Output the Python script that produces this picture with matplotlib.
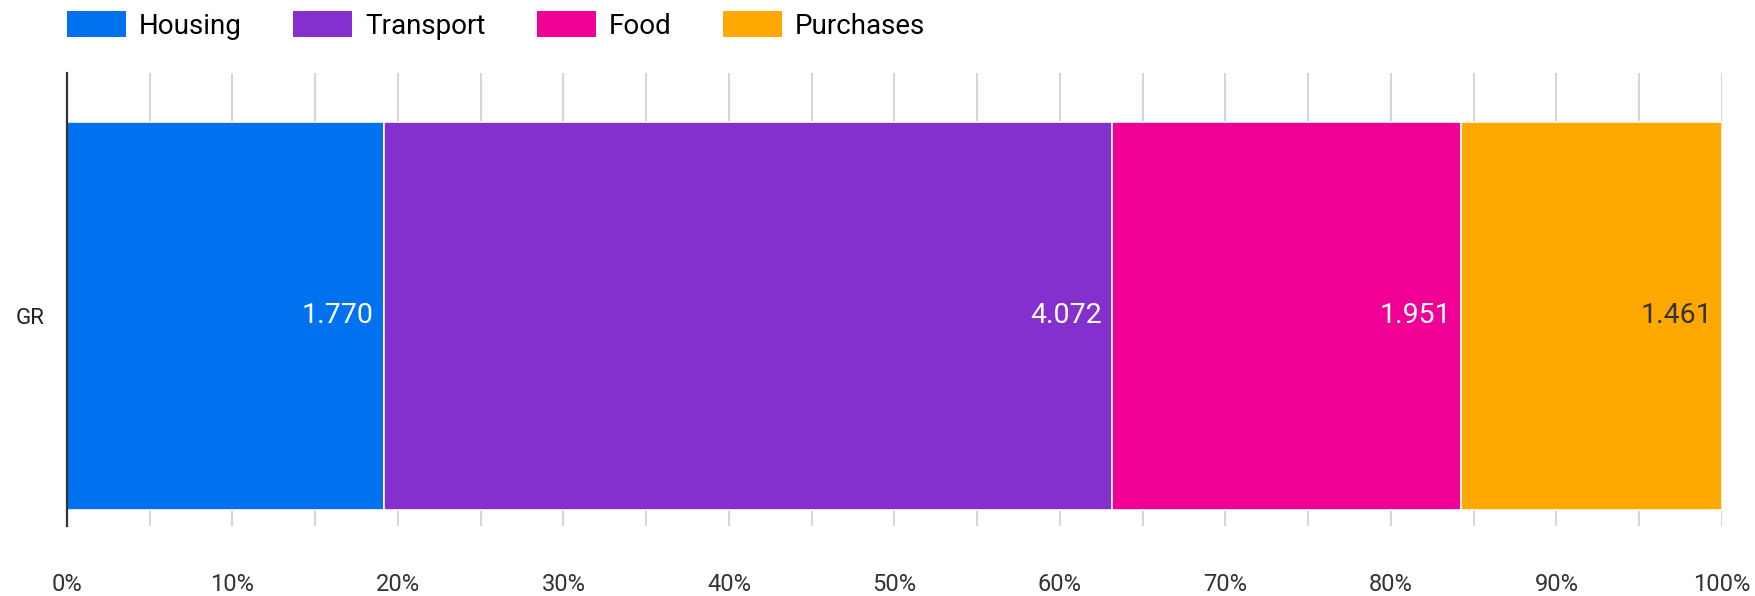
import matplotlib
matplotlib.use('Agg')
import matplotlib.pyplot as plt
from matplotlib.patches import Patch
from matplotlib.ticker import FixedLocator, PercentFormatter
import numpy as np

plt.rcParams['font.family'] = ['Roboto', 'DejaVu Sans']

# Spending per category for one country
country = 'GR'
categories = ['Housing', 'Transport', 'Food', 'Purchases']
values = [1.770, 4.072, 1.951, 1.461]
colors = ['#0072f0', '#8430ce', '#f10096', '#ffa800']
label_colors = ['white', 'white', 'white', '#333333']

shares = np.array(values) / sum(values) * 100
lefts = np.concatenate([[0], np.cumsum(shares)[:-1]])

W, H = 1756, 596
fig = plt.figure(figsize=(W / 100, H / 100), dpi=100)
ax = fig.add_axes([67 / W, 1 - 526 / H, (1722 - 67) / W, (526 - 73) / H])

for left, share, val, col, lcol in zip(lefts, shares, values, colors, label_colors):
    ax.barh(0, share, left=left, height=1.0, color=col, edgecolor='white', linewidth=1.2, zorder=3)
    ax.annotate(f'{val:.3f}', xy=(left + share, 0), xytext=(-7, 0), textcoords='offset points',
                ha='right', va='center', fontsize=20.5, color=lcol, zorder=4)

ax.set_xlim(0, 100)
ax.set_ylim(-0.541, 0.626)
ax.xaxis.set_major_locator(FixedLocator(np.arange(0, 101, 10)))
ax.xaxis.set_minor_locator(FixedLocator(np.arange(5, 100, 10)))
ax.xaxis.set_major_formatter(PercentFormatter(decimals=0))
ax.grid(axis='x', which='both', color='#d6d6d6', linewidth=1.5, zorder=0)
ax.tick_params(axis='x', which='both', length=0, pad=34, labelsize=17, labelcolor='#333333')
ax.set_yticks([0])
ax.set_yticklabels([country])
ax.tick_params(axis='y', length=0, pad=16, labelsize=16, labelcolor='#222222')

for side in ['top', 'right', 'bottom']:
    ax.spines[side].set_visible(False)
ax.spines['left'].set_color('#333333')
ax.spines['left'].set_linewidth(1.6)
ax.spines['left'].set_zorder(5)

handles = [Patch(facecolor=c, edgecolor='none') for c in colors]
fig.legend(handles, categories, loc='upper left', bbox_to_anchor=(67 / W, 1 - 11 / H), ncol=4,
           frameon=False, fontsize=20, handlelength=2.12, handleheight=1.08,
           handletextpad=0.47, columnspacing=1.85, borderaxespad=0, borderpad=0)

fig.savefig('out.png', dpi=100)
